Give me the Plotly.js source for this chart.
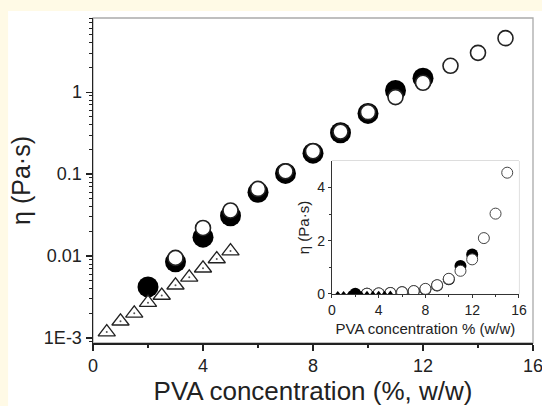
<!DOCTYPE html>
<html>
<head>
<meta charset="utf-8">
<script src="https://cdn.plot.ly/plotly-3.0.1.min.js"></script>
<style>html,body{margin:0;padding:0;background:#fffae6;}#chart{width:542px;height:406px;}</style>
</head>
<body>
<div id="chart"></div>
<script>
// Filled black circles
const filledX = [2, 3, 4, 5, 6, 7, 8, 9, 10, 11, 12];
const filledY = [0.0042, 0.0085, 0.017, 0.031, 0.06, 0.102, 0.18, 0.32, 0.55, 1.05, 1.48];
// Open circles
const openX = [3, 4, 5, 6, 7, 8, 9, 10, 11, 12, 13, 14, 15];
const openY = [0.0095, 0.022, 0.036, 0.066, 0.108, 0.19, 0.33, 0.57, 0.87, 1.3, 2.1, 3.02, 4.56];
// Open triangles
const triX = [0.5, 1, 1.5, 2, 2.5, 3, 3.5, 4, 4.5, 5];
const triY = [0.00118, 0.0016, 0.002, 0.0027, 0.0033, 0.0044, 0.0055, 0.0071, 0.0092, 0.0115];
// Tick labels
const yTickVals = [0.001, 0.01, 0.1, 1];
const yTickText = ['1E-3', '0.01', '0.1', '1'];
const xTickVals = [0, 4, 8, 12, 16];
const insetYTicks = [0, 2, 4];

const minorLog = [];
for (let e = -4; e <= 0; e++) for (let m = 2; m <= 9; m++) minorLog.push(m * Math.pow(10, e));

const traces = [
  {x: filledX, y: filledY, mode: 'markers', type: 'scatter',
   marker: {symbol: 'circle', size: 21, color: '#000', line: {width: 0}}},
  {x: openX, y: openY, mode: 'markers', type: 'scatter',
   marker: {symbol: 'circle', size: 15, color: '#fff', line: {width: 1.6, color: '#222'}}},
  {x: triX, y: triY, mode: 'markers', type: 'scatter',
   marker: {symbol: 'triangle-up', size: 15, color: '#fff', line: {width: 1.3, color: '#222'}}},
  {x: triX, y: triY, mode: 'markers', type: 'scatter',
   marker: {symbol: 'circle', size: 2, color: '#555'}},
  // inset
  {x: filledX, y: filledY, mode: 'markers', type: 'scatter', xaxis: 'x2', yaxis: 'y2',
   marker: {symbol: 'circle', size: 12, color: '#000', line: {width: 0}}},
  {x: openX, y: openY, mode: 'markers', type: 'scatter', xaxis: 'x2', yaxis: 'y2',
   marker: {symbol: 'circle', size: 11, color: '#fff', line: {width: 1, color: '#444'}}},
  {x: triX, y: triY, mode: 'markers', type: 'scatter', xaxis: 'x2', yaxis: 'y2',
   marker: {symbol: 'triangle-up', size: 6, color: '#000', line: {width: 0}}}
];

const font = {family: 'Liberation Sans, Arial, sans-serif', color: '#222'};

const layout = {
  width: 542, height: 406,
  margin: {l: 93, r: 9, t: 18, b: 63},
  paper_bgcolor: '#fffae6',
  plot_bgcolor: '#fff',
  showlegend: false,
  font: font,
  xaxis: {
    range: [0, 16], tickvals: xTickVals, ticks: 'outside', ticklen: 6, tickwidth: 1.3,
    tickcolor: '#222', showline: true, linecolor: '#222', linewidth: 1.5,
    showgrid: false, zeroline: false, ticklabeloverflow: 'allow',
    tickfont: {size: 18, color: '#222'},
    minor: {tickvals: [2, 6, 10, 14], ticks: 'outside', ticklen: 3, tickcolor: '#222', tickwidth: 1.2},
    title: {text: 'PVA concentration (%, w/w)', font: {size: 26, color: '#222'}, standoff: 6}
  },
  yaxis: {
    type: 'log', range: [-3.061, 0.905], tickvals: yTickVals, ticktext: yTickText,
    ticks: 'outside', ticklen: 6, tickwidth: 1.3, tickcolor: '#222',
    showline: true, linecolor: '#222', linewidth: 1.5, showgrid: false, zeroline: false,
    tickfont: {size: 18, color: '#222'},
    minor: {tickvals: minorLog, ticks: 'outside', ticklen: 3, tickcolor: '#222', tickwidth: 1},
    title: {text: 'η (Pa·s)', font: {size: 25, color: '#222'}, standoff: 6}
  },
  xaxis2: {
    domain: [0.543, 0.968], anchor: 'y2', range: [0, 16], tickvals: xTickVals,
    ticks: 'outside', ticklen: 3, tickcolor: '#333', showline: true, linecolor: '#333', linewidth: 1,
    showgrid: false, zeroline: false, tickfont: {size: 14, color: '#222'},
    minor: {tickvals: [2, 6, 10, 14], ticks: 'outside', ticklen: 2, tickcolor: '#333'},
    title: {text: 'PVA concentration % (w/w)', font: {size: 15, color: '#222'}, standoff: 6}
  },
  yaxis2: {
    domain: [0.151, 0.56], anchor: 'x2', range: [0, 5], tickvals: insetYTicks,
    ticks: 'outside', ticklen: 3, tickcolor: '#333', showline: true, linecolor: '#333', linewidth: 1,
    showgrid: false, zeroline: false, tickfont: {size: 14, color: '#222'},
    minor: {tickvals: [1, 3], ticks: 'outside', ticklen: 2, tickcolor: '#333'},
    title: {text: 'η (Pa·s)', font: {size: 15, color: '#222'}, standoff: 4}
  },
  shapes: [
    {type: 'rect', xref: 'paper', yref: 'paper', x0: -0.193, x1: 1.03, y0: -0.2, y1: 1.0215,
     fillcolor: '#fff', line: {width: 0}, layer: 'below'},
    {type: 'rect', xref: 'paper', yref: 'paper', x0: 0, x1: 1, y0: 0, y1: 1,
     line: {width: 1.3, color: '#aaa'}, layer: 'below'},
    {type: 'rect', xref: 'x2 domain', yref: 'y2 domain', x0: 0, x1: 1, y0: 0, y1: 1,
     fillcolor: '#fff', line: {width: 1, color: '#bbb'}, layer: 'below'}
  ]
};

Plotly.newPlot('chart', traces, layout, {staticPlot: true, displayModeBar: false});
</script>
</body>
</html>
